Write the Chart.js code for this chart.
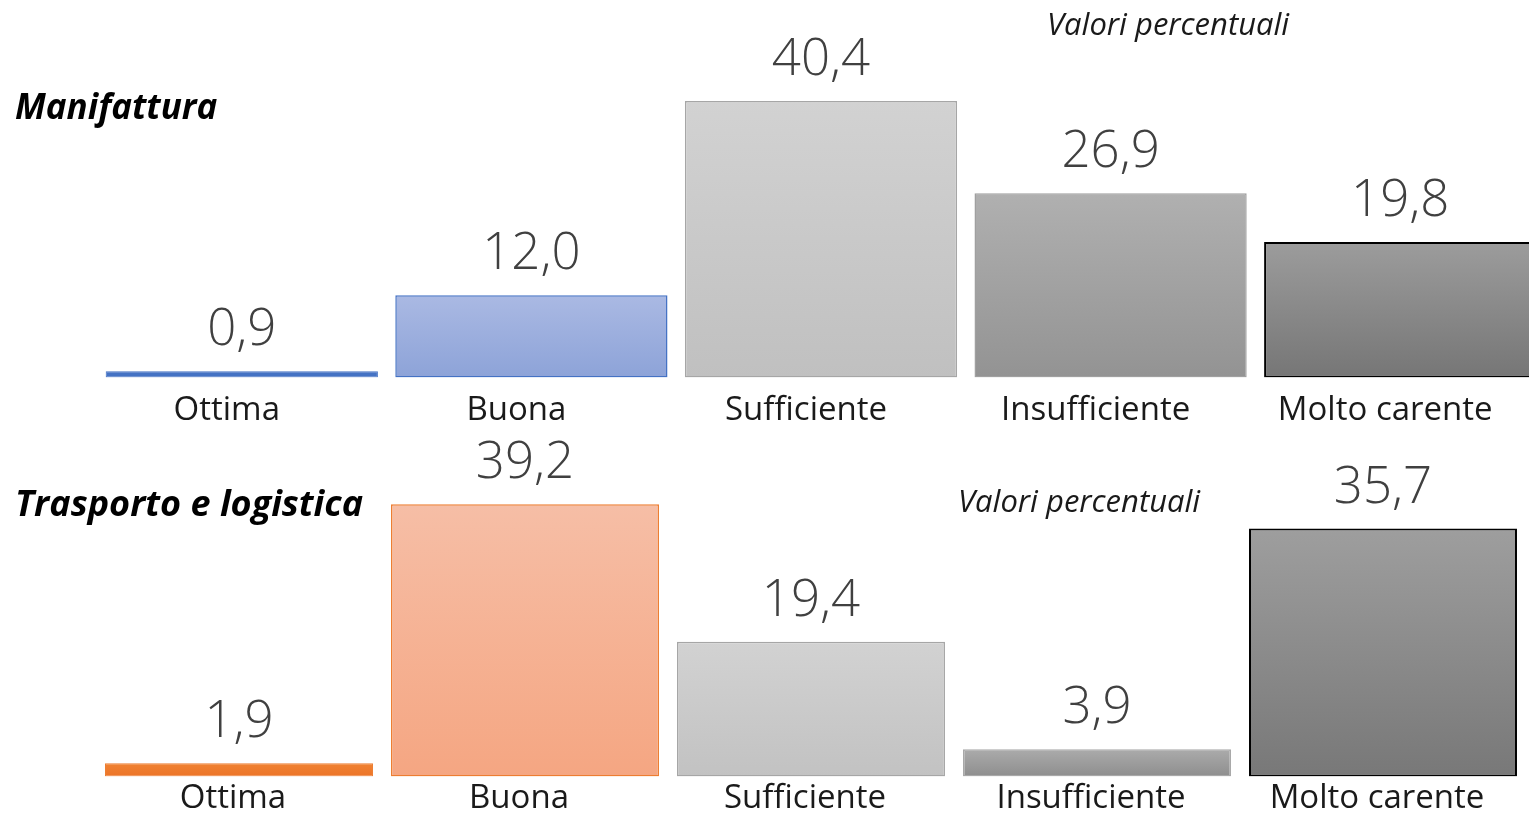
<!DOCTYPE html>
<html>
<head>
<meta charset="utf-8">
<script src="https://cdn.jsdelivr.net/npm/chart.js@4"></script>
<style>
  html, body { margin: 0; padding: 0; background: #fff; overflow: hidden; width: 1529px; height: 815px; }
  .box { position: absolute; left: 0; width: 1560px; }
  #boxTop { top: 0; height: 443px; }
  #boxBottom { top: 430px; height: 390px; }
  .title { position: absolute; left: 15px; font: italic 700 35px "Open Sans", sans-serif; color: #000; white-space: nowrap; }
  .note { position: absolute; font: italic 400 31px "Open Sans", sans-serif; color: #1a1a1a; white-space: nowrap; }
</style>
</head>
<body>
<div class="box" id="boxTop"><canvas id="chartTop"></canvas></div>
<div class="box" id="boxBottom"><canvas id="chartBottom"></canvas></div>
<div class="title" style="top:82px">Manifattura</div>
<div class="title" style="top:478px; font-size:36px">Trasporto e logistica</div>
<div class="note" style="top:2px; left:1047px">Valori percentuali</div>
<div class="note" style="top:479px; left:958px">Valori percentuali</div>
<script>
const categories = ["Ottima", "Buona", "Sufficiente", "Insufficiente", "Molto carente"];
const manifattura = [0.9, 12.0, 40.4, 26.9, 19.8];
const trasporto = [1.9, 39.2, 19.4, 3.9, 35.7];

// top / bottom colour of each bar's vertical gradient
const topFills = [["#4472C4", "#4472C4"], ["#AAB9E3", "#8DA3D8"], ["#D2D2D2", "#C0C0C0"], ["#B0B0B0", "#939393"], ["#9C9C9C", "#767676"]];
const topBorders = ["#4472C4", "#4472C4", "#A6A6A6", "#A0A0A0", "#000000"];
const bottomFills = [["#F08232", "#EC7428"], ["#F6BEA6", "#F5A682"], ["#D2D2D2", "#C2C2C2"], ["#ABABAB", "#8E8E8E"], ["#9E9E9E", "#787878"]];
const bottomBorders = ["#ED7D31", "#ED7D31", "#A6A6A6", "#A8A8A8", "#000000"];

function barFill(stops) {
    return (ctx) => {
        const c = stops[ctx.dataIndex]
        const y = ctx.chart.scales.y
        if (!y || ctx.type !== "data") return c[0]
        const top = y.getPixelForValue(ctx.raw)
        const base = y.getPixelForValue(0)
        if (!Number.isFinite(top) || !Number.isFinite(base) || base - top < 1) return c[0]
        const g = ctx.chart.ctx.createLinearGradient(0, top, 0, base)
        g.addColorStop(0, c[0])
        g.addColorStop(1, c[1])
        return g
    }
}

// value printed above every bar, with a decimal comma
const valueLabels = {
    id: "valueLabels",
    afterDatasetsDraw(chart) {
        const ctx = chart.ctx
        const values = chart.data.datasets[0].data
        ctx.save()
        ctx.font = '300 51px "Open Sans"'
        ctx.fillStyle = "#404040"
        ctx.textAlign = "center"
        ctx.textBaseline = "alphabetic"
        chart.getDatasetMeta(0).data.forEach((bar, i) => {
            ctx.fillText(values[i].toFixed(1).replace(".", ","), bar.x, bar.y - 26)
        })
        ctx.restore()
    }
}

function makeChart(id, values, fills, borders, o) {
    return new Chart(document.getElementById(id), {
        type: "bar",
        data: {
            labels: categories,
            datasets: [{
                data: values,
                backgroundColor: barFill(fills),
                borderColor: borders,
                borderWidth: o.borderWidths,
                borderSkipped: false,
                barPercentage: o.barPct,
                categoryPercentage: 1
            }]
        },
        options: {
            responsive: true,
            maintainAspectRatio: false,
            animation: false,
            layout: { padding: { left: o.left, right: o.right, top: o.top, bottom: 0 } },
            plugins: { legend: { display: false }, tooltip: { enabled: false } },
            scales: {
                x: {
                    grid: { display: false, drawTicks: false },
                    border: { display: false },
                    ticks: {
                        color: "#1a1a1a",
                        font: { family: '"Open Sans"', size: 33 },
                        padding: o.tickPad,
                        labelOffset: o.labelOffset,
                        maxRotation: 0,
                        autoSkip: false
                    }
                },
                y: { display: false, min: 0, max: o.max }
            }
        },
        plugins: [valueLabels]
    })
}

makeChart("chartTop", manifattura, topFills, topBorders, {
    left: 97, right: 15, top: 49, max: 48, tickPad: 13, labelOffset: -15, barPct: 0.94,
    borderWidths: [1, 1.5, 1.5, 1.5, 2]
})

makeChart("chartBottom", trasporto, bottomFills, bottomBorders, {
    left: 96, right: 34, top: 27, max: 46, tickPad: 2, labelOffset: -6, barPct: 0.937,
    borderWidths: [1, 1.5, 1.5, 1.5, 2]
})
</script>
</body>
</html>
